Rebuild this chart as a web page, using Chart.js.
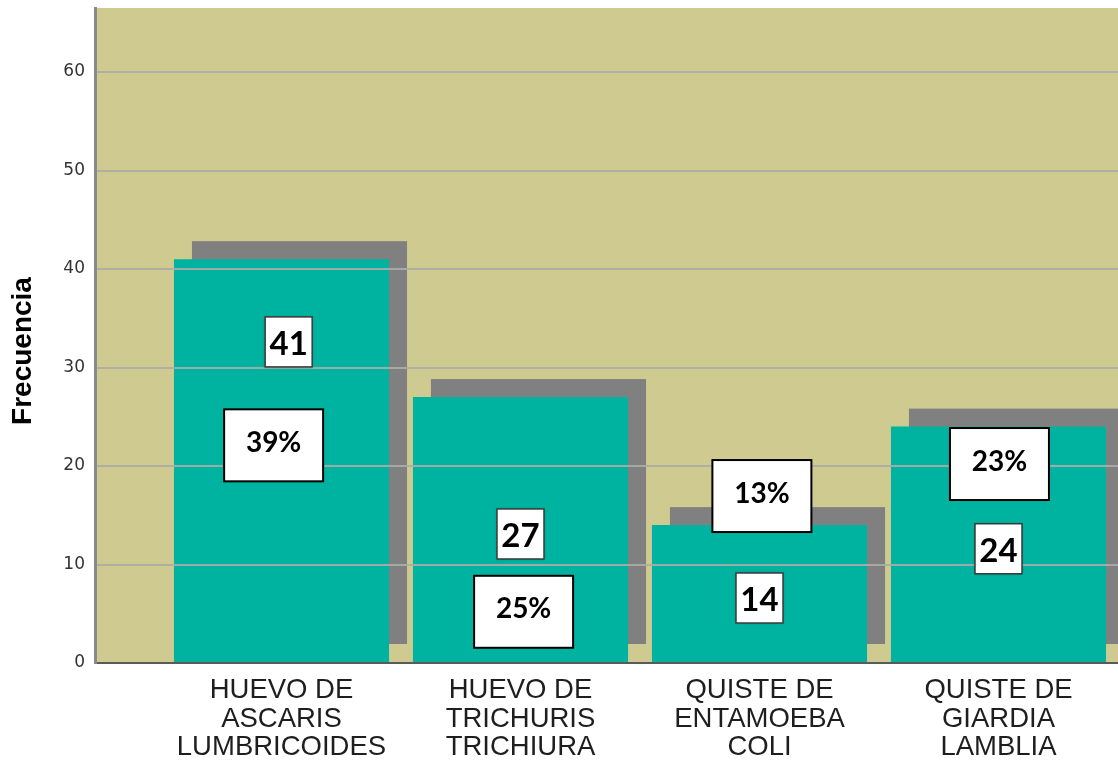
<!DOCTYPE html>
<html>
<head>
<meta charset="utf-8">
<script src="https://cdn.jsdelivr.net/npm/chart.js@4/dist/chart.umd.min.js"></script>
<style>
  html, body { margin: 0; padding: 0; background: #ffffff; }
  #wrap { width: 1118px; height: 763px; }
</style>
</head>
<body>
<div id="wrap"><canvas id="c" width="1118" height="763"></canvas></div>
<script>
// ---- data ----
const categories = [
  ["HUEVO DE", "ASCARIS", "LUMBRICOIDES"],
  ["HUEVO DE", "TRICHURIS", "TRICHIURA"],
  ["QUISTE DE", "ENTAMOEBA", "COLI"],
  ["QUISTE DE", "GIARDIA", "LAMBLIA"]
];
const counts = [41, 27, 14, 24];
const percents = [39, 25, 13, 23];
const yTicks = [0, 10, 20, 30, 40, 50, 60];
const yAxisTitle = "Frecuencia";

// ---- label placement (value units / category units), kept apart from the data ----
const countLabelY = [32.6, 13.1, 6.6, 11.6];
const countLabelDX = [0.03, 0, 0, 0];
const pctLabelY = [22.1, 5.2, 16.95, 20.2];
const pctLabelDX = [-0.033, 0.013, 0.01, 0.004];

const COLORS = {
  plot: '#CFCA8F',
  bar: '#00B3A0',
  shadow: '#808080',
  grid: 'rgba(172,172,166,0.9)'
};

const plotBackground = {
  id: 'plotBackground',
  beforeDraw(chart) {
    const { ctx, chartArea: a } = chart;
    ctx.save();
    ctx.fillStyle = COLORS.plot;
    ctx.fillRect(a.left, a.top, a.right - a.left, a.bottom - a.top);
    ctx.restore();
  }
};

const barShadow = {
  id: 'barShadow',
  beforeDatasetsDraw(chart) {
    const { ctx } = chart;
    const meta = chart.getDatasetMeta(0);
    const off = 18;
    ctx.save();
    ctx.fillStyle = COLORS.shadow;
    meta.data.forEach(el => {
      const p = el.getProps(['x', 'y', 'base', 'width'], true);
      const left = p.x - p.width / 2 + off;
      ctx.fillRect(left, p.y - off, p.width, (p.base - off) - (p.y - off));
    });
    ctx.restore();
  }
};

const valueBoxes = {
  id: 'valueBoxes',
  afterDraw(chart) {
    const { ctx } = chart;
    const xs = chart.scales.x, ys = chart.scales.y;
    ctx.save();
    // percentage boxes
    percents.forEach((p, i) => {
      const cx = xs.getPixelForValue(i + pctLabelDX[i]);
      const cy = ys.getPixelForValue(pctLabelY[i]);
      const w = 99, h = 72;
      ctx.fillStyle = '#ffffff';
      ctx.fillRect(cx - w / 2, cy - h / 2, w, h);
      ctx.lineWidth = 2;
      ctx.strokeStyle = '#000000';
      ctx.strokeRect(cx - w / 2, cy - h / 2, w, h);
      ctx.fillStyle = '#000000';
      ctx.font = 'bold 28px Lato, "Open Sans", sans-serif';
      ctx.textAlign = 'center';
      ctx.textBaseline = 'alphabetic';
      ctx.fillText(p + '%', cx, cy - 3.5 + 0.36 * 28);
    });
    // count boxes
    counts.forEach((v, i) => {
      const cx = xs.getPixelForValue(i + countLabelDX[i]);
      const cy = ys.getPixelForValue(countLabelY[i]);
      const w = 47, h = 50;
      ctx.save();
      ctx.shadowColor = 'rgba(0,0,0,0.45)';
      ctx.shadowBlur = 3;
      ctx.fillStyle = '#ffffff';
      ctx.fillRect(cx - w / 2, cy - h / 2, w, h);
      ctx.restore();
      ctx.lineWidth = 1.5;
      ctx.strokeStyle = '#3a3a3a';
      ctx.strokeRect(cx - w / 2, cy - h / 2, w, h);
      ctx.fillStyle = '#000000';
      ctx.font = 'bold 33px Lato, "Open Sans", sans-serif';
      ctx.textAlign = 'center';
      ctx.textBaseline = 'alphabetic';
      ctx.fillText(String(v), cx, cy + 1.5 + 0.36 * 33);
    });
    // axis title
    ctx.save();
    ctx.translate(23, 351);
    ctx.rotate(-Math.PI / 2);
    ctx.fillStyle = '#000000';
    ctx.font = 'bold 28px "Liberation Sans", Arial, sans-serif';
    ctx.textAlign = 'center';
    ctx.textBaseline = 'middle';
    ctx.fillText(yAxisTitle, 0, 0);
    ctx.restore();
    ctx.restore();
  }
};

function noPad(s) {
  s.paddingLeft = 0; s.paddingRight = 0; s.paddingTop = 0; s.paddingBottom = 0;
}

new Chart(document.getElementById('c'), {
  type: 'bar',
  data: {
    datasets: [{
      data: counts.map((v, i) => ({ x: i, y: v })),
      backgroundColor: COLORS.bar,
      borderWidth: 0,
      categoryPercentage: 1.0,
      barPercentage: 0.9
    }]
  },
  options: {
    responsive: false,
    animation: false,
    devicePixelRatio: 1,
    layout: { padding: { top: 8, left: 0, right: 0, bottom: 0 } },
    plugins: { legend: { display: false }, tooltip: { enabled: false } },
    scales: {
      x: {
        type: 'linear',
        offset: false,
        min: -0.7803,
        max: 3.5,
        afterBuildTicks: s => { s.ticks = categories.map((c, i) => ({ value: i })); },
        afterFit: s => { s.height = 100; noPad(s); },
        grid: { display: false, drawTicks: false, offset: false },
        border: { display: true, color: '#5a5a5a', width: 2, z: 2 },
        ticks: {
          callback: v => categories[v],
          autoSkip: false,
          maxRotation: 0,
          minRotation: 0,
          padding: 13.5,
          color: '#1e1e1e',
          font: { family: '"Liberation Sans", Arial, sans-serif', size: 27.5, lineHeight: '28.5px' }
        }
      },
      y: {
        min: 0,
        max: 66.5,
        afterBuildTicks: s => { s.ticks = yTicks.map(v => ({ value: v })); },
        afterFit: s => { s.width = 95; noPad(s); },
        grid: { color: COLORS.grid, lineWidth: 2, drawTicks: false, z: 1 },
        border: { display: true, color: '#8a8a8a', width: 3, z: 2 },
        ticks: {
          padding: 10,
          color: '#333333',
          font: { family: '"DejaVu Sans", sans-serif', size: 17 }
        }
      }
    }
  },
  plugins: [plotBackground, barShadow, valueBoxes]
});
</script>
</body>
</html>
